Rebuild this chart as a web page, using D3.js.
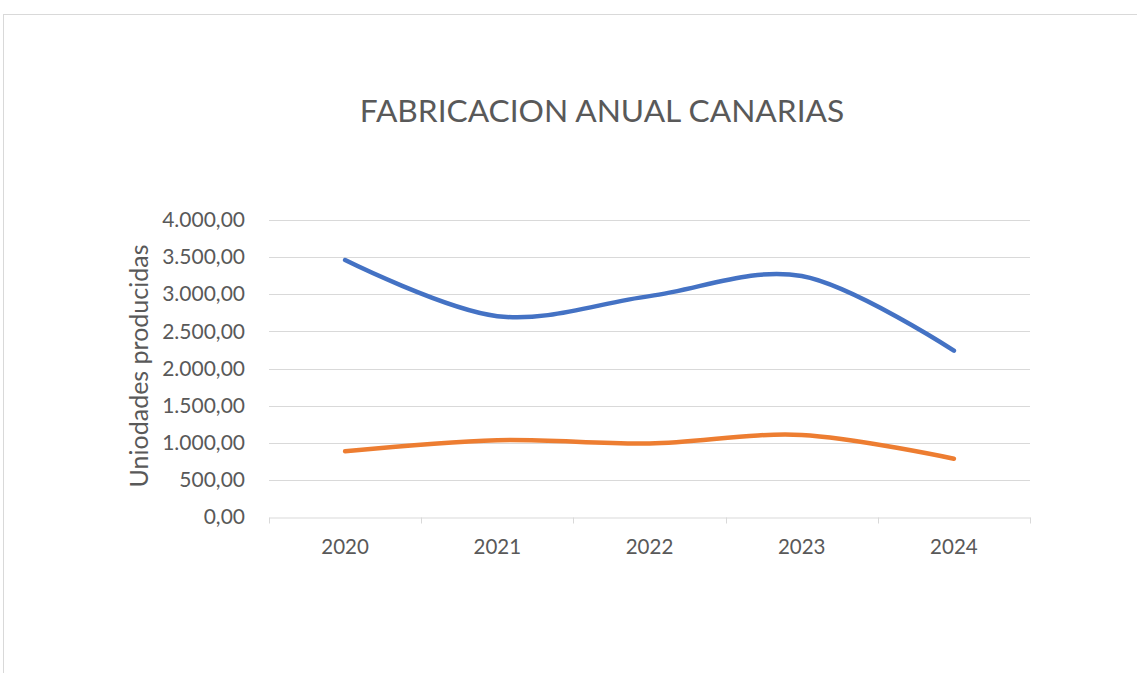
<!DOCTYPE html>
<html>
<head>
<meta charset="utf-8">
<script src="https://cdn.jsdelivr.net/npm/d3@7"></script>
<style>
  body { margin: 0; background: #fff; }
  text { font-family: Lato, "Open Sans", sans-serif; fill: #595959; }
</style>
</head>
<body>
<svg id="chart"></svg>
<script>
// datos
var years = ["2020", "2021", "2022", "2023", "2024"];
var serieAzul = [3460, 2705, 2975, 3245, 2240];
var serieNaranja = [885, 1035, 990, 1105, 785];
var yTicks = [0, 500, 1000, 1500, 2000, 2500, 3000, 3500, 4000];

var width = 1137, height = 673;
var margin = {left: 269, right: 107, top: 220, bottom: 156};

var svg = d3.select("#chart")
    .attr("width", width)
    .attr("height", height);

// borde del area del grafico
svg.append("rect")
    .attr("x", 3.5).attr("y", 14.5)
    .attr("width", 1200).attr("height", 800)
    .attr("fill", "none")
    .attr("stroke", "#d9d9d9");

var es = d3.formatLocale({decimal: ",", thousands: ".", grouping: [3], currency: ["", "€"]});
var fmt = es.format(",.2f");

var x = d3.scaleBand()
    .domain(years)
    .range([margin.left, width - margin.right]);

var y = d3.scaleLinear()
    .domain([0, 4000])
    .range([height - margin.bottom, margin.top]);

// lineas de cuadricula
svg.append("g").selectAll("line")
    .data(yTicks.slice(1))
    .enter()
    .append("line")
    .attr("x1", margin.left).attr("x2", width - margin.right)
    .attr("y1", function(d) { return Math.round(y(d)) + 0.5; })
    .attr("y2", function(d) { return Math.round(y(d)) + 0.5; })
    .attr("stroke", "#d9d9d9")
    .attr("stroke-width", 1);

// eje y (solo etiquetas)
var yAxis = svg.append("g")
    .attr("transform", "translate(" + 245 + ",0)")
    .call(d3.axisLeft(y).tickValues(yTicks).tickFormat(fmt).tickSize(0).tickPadding(0));
yAxis.select(".domain").remove();
yAxis.selectAll("text")
    .attr("font-size", 21)
    .attr("fill", "#595959")
    .style("font-family", "Lato, sans-serif");

// eje x
var xAxisY = Math.round(y(0)) + 0.5;
var xAxis = svg.append("g")
    .attr("transform", "translate(0," + xAxisY + ")")
    .call(d3.axisBottom(x).tickSize(0).tickPadding(22));
xAxis.select(".domain").attr("stroke", "#d9d9d9");
xAxis.selectAll("text")
    .attr("font-size", 20.5)
    .attr("fill", "#595959")
    .style("font-family", "Lato, sans-serif");

var bounds = years.map(function(d) { return x(d); }).concat([x.range()[1]]);
svg.append("g").selectAll("line")
    .data(bounds)
    .enter()
    .append("line")
    .attr("x1", function(d) { return Math.round(d) + 0.5; })
    .attr("x2", function(d) { return Math.round(d) + 0.5; })
    .attr("y1", xAxisY).attr("y2", xAxisY + 6)
    .attr("stroke", "#d9d9d9");

// lineas suavizadas
var line = d3.line()
    .x(function(d, i) { return x(years[i]) + x.bandwidth() / 2; })
    .y(function(d) { return y(d); })
    .curve(d3.curveCardinal.tension(0));

[[serieAzul, "#4472c4"], [serieNaranja, "#ed7d31"]].forEach(function(s) {
    svg.append("path")
        .datum(s[0])
        .attr("d", line)
        .attr("fill", "none")
        .attr("stroke", s[1])
        .attr("stroke-width", 4.5)
        .attr("stroke-linecap", "round")
        .attr("stroke-linejoin", "round");
});

// titulo
svg.append("text")
    .attr("x", 602).attr("y", 122)
    .attr("text-anchor", "middle")
    .attr("font-size", 31.7)
    .text("FABRICACION ANUAL CANARIAS");

// titulo eje y
svg.append("text")
    .attr("transform", "translate(148,366) rotate(-90)")
    .attr("text-anchor", "middle")
    .attr("font-size", 25)
    .text("Uniodades producidas");
</script>
</body>
</html>
